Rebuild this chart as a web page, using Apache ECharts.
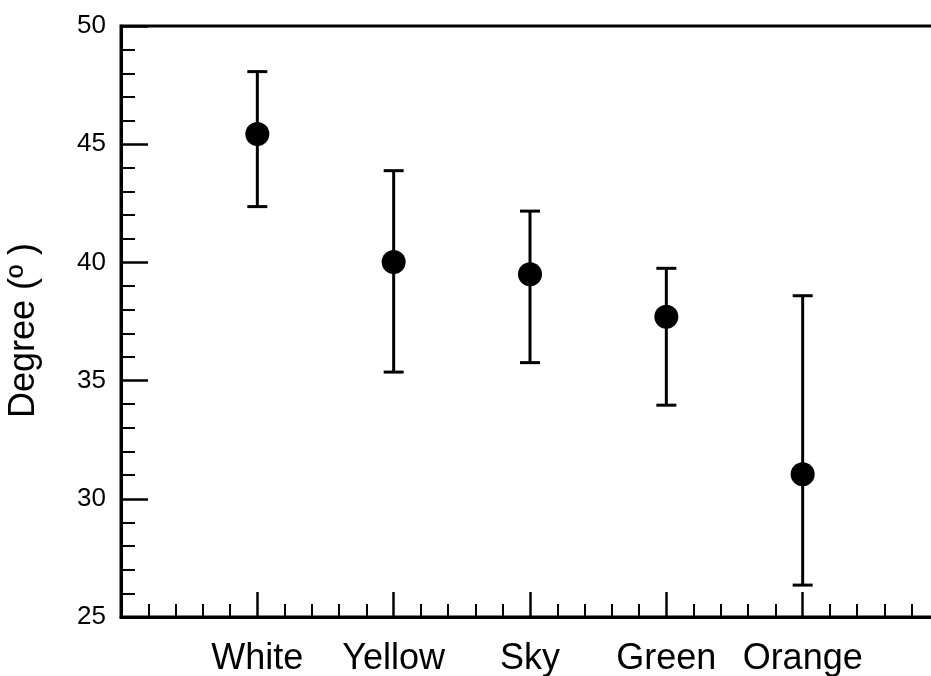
<!DOCTYPE html>
<html>
<head>
<meta charset="utf-8">
<script src="https://cdn.jsdelivr.net/npm/echarts@6/dist/echarts.min.js"></script>
<style>
  html, body { margin: 0; padding: 0; background: #fff; }
  #chart { width: 931px; height: 676px; }
</style>
</head>
<body>
<div id="chart"></div>
<script>
// Colour categories and the measured angle (mean with lower/upper bounds)
var categories = ['White', 'Yellow', 'Sky', 'Green', 'Orange'];
var meanDegree = [45.43, 40.02, 39.50, 37.70, 31.04];
var lowerDegree = [42.36, 35.36, 35.76, 33.96, 26.35];
var upperDegree = [48.07, 43.88, 42.17, 39.75, 38.59];
var yTicks = [25, 30, 35, 40, 45, 50];

var FONT = '"Liberation Sans", Arial, sans-serif';

// categories sit at x = 1..n on a numeric axis so minor ticks can fall between them
var points = categories.map(function (c, i) { return [i + 1, meanDegree[i]]; });
var bars = categories.map(function (c, i) { return [i + 1, lowerDegree[i], upperDegree[i]]; });

var chart = echarts.init(document.getElementById('chart'), null, { renderer: 'canvas' });

chart.setOption({
  backgroundColor: '#ffffff',
  animation: false,
  grid: {
    left: 121, width: 818, top: 26, bottom: 59,
    outerBoundsMode: 'none',
    containLabel: false,
    show: true, borderColor: '#000', borderWidth: 3, backgroundColor: 'transparent'
  },
  xAxis: {
    type: 'value',
    min: 0, max: categories.length + 1, interval: 1,
    splitLine: { show: false },
    axisLine: { lineStyle: { color: '#000', width: 3 } },
    axisTick: { inside: true, length: 25, lineStyle: { color: '#000', width: 2.5 } },
    minorTick: { show: true, splitNumber: 5, length: 13, lineStyle: { color: '#000', width: 2 } },
    axisLabel: {
      margin: 24, color: '#000', fontSize: 36, fontFamily: FONT,
      formatter: function (v) { return categories[v - 1] || ''; }
    }
  },
  yAxis: {
    type: 'value',
    min: yTicks[0], max: yTicks[yTicks.length - 1], interval: 5,
    name: 'Degree (º )',
    nameLocation: 'middle', nameGap: 79, nameRotate: 90,
    nameTextStyle: { color: '#000', fontSize: 36, fontFamily: FONT, padding: [0, 18, 0, 0] },
    splitLine: { show: false },
    axisLine: { lineStyle: { color: '#000', width: 3 } },
    axisTick: { inside: true, length: 27, lineStyle: { color: '#000', width: 2.5 } },
    minorTick: { show: true, splitNumber: 5, length: 14, lineStyle: { color: '#000', width: 2 } },
    axisLabel: { margin: 15, color: '#000', fontSize: 26, fontFamily: FONT }
  },
  series: [
    {
      type: 'custom',
      data: bars,
      z: 2,
      renderItem: function (params, api) {
        var x = api.value(0);
        var lo = api.coord([x, api.value(1)]);
        var hi = api.coord([x, api.value(2)]);
        var half = 10;
        var style = { stroke: '#000', lineWidth: 3 };
        return {
          type: 'group',
          children: [
            { type: 'line', shape: { x1: lo[0], y1: lo[1], x2: hi[0], y2: hi[1] }, style: style },
            { type: 'line', shape: { x1: hi[0] - half, y1: hi[1], x2: hi[0] + half, y2: hi[1] }, style: style },
            { type: 'line', shape: { x1: lo[0] - half, y1: lo[1], x2: lo[0] + half, y2: lo[1] }, style: style }
          ]
        };
      }
    },
    {
      type: 'scatter',
      data: points,
      z: 3,
      symbol: 'circle',
      symbolSize: 24,
      itemStyle: { color: '#000', opacity: 1 }
    }
  ]
});
</script>
</body>
</html>
